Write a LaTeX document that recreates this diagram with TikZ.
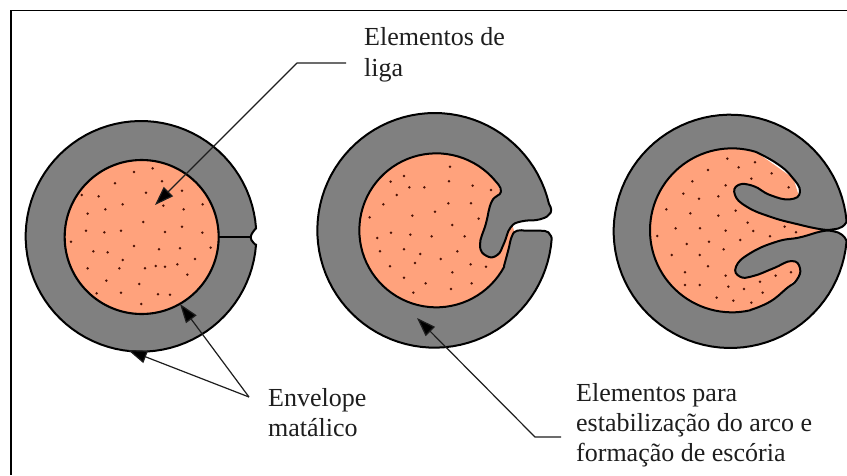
\documentclass[tikz,border=0pt]{standalone}
\usepackage{fontspec}
\setmainfont{Liberation Serif}
\usetikzlibrary{arrows.meta}
\definecolor{core}{HTML}{FFA27C}
\definecolor{shell}{HTML}{808080}
\definecolor{speck}{HTML}{4A1206}
\definecolor{ink}{HTML}{1E1E1E}
\tikzset{
  frameline/.style={line width=1.8pt,black},
  shellshape/.style={fill=shell,draw=black,line width=2pt,line join=round},
  coreline/.style={fill=core,draw=black,line width=2.1pt},
  leader/.style={draw=ink,line width=1.2pt,line join=round},
  pointer/.style={leader,-{Triangle[length=19pt,width=13pt,fill=black]}},
  label/.style={anchor=north west,inner sep=0pt,align=left,text=ink,font=\fontsize{26}{30.3}\selectfont},
  zoomA/.style={xshift=0pt,yshift=-120pt,x=.33333pt,y=-.33333pt},
  zoomB/.style={xshift=300pt,yshift=-110pt,x=.33333pt,y=-.33333pt},
  zoomC/.style={xshift=590pt,yshift=-110pt,x=.33333pt,y=-.33333pt},
}
\newcommand{\specks}[1]{\foreach \px/\py in {#1}{\fill[speck] (\px,\py) circle[radius=1.4pt];}}
\begin{document}
\begin{tikzpicture}[x=1pt,y=-1pt]
\useasboundingbox (0,0) rectangle (847,475);
\fill[white] (0,0) rectangle (847,475);
% frame: only the top and left edges are in view
\coordinate (fTL) at (11,10.5);
\coordinate (fTR) at (847,10.5);
\coordinate (fBL) at (11,475);
\draw[frameline] (fTR) -- (fTL) -- (fBL);

% ---- left section
\begin{scope}[zoomA]
  \draw[shellshape] plot[domain=4:356,samples=90] ({423+346*cos(-\x)},{349+346*sin(-\x)})
     -- plot[smooth,tension=.8] coordinates {(768,375) (752,352) (768,325)} -- cycle;
  \draw[coreline] (425,351) circle[radius=77pt];
  \coordinate (seamA) at (655,352);
  \coordinate (seamB) at (752,352);
  \draw[black,line width=2pt] (seamA) -- (seamB);
  \specks{402/156,458/145,345/190,486/184,438/218,245/225,296/229,546/212,368/253,490/257,608/253,551/268,316/268,263/281,430/306,258/332,313/337,363/332,495/336,546/320,607/338,213/365,402/378,280/394,323/397,477/388,540/385,632/383,368/420,585/417,263/445,358/445,435/445,467/438,495/440,532/433,562/464,319/482,418/492,290/520,363/518,474/523,510/524,424/552}
\end{scope}

% ---- middle section
\begin{scope}[zoomB]
  \fill[core] plot[domain=28:320,samples=70] ({409+231*cos(\x)},{361+231*sin(\x)})
     -- (620,280) -- (642,362) -- (630,420) -- cycle;
  \draw[shellshape] plot[domain=13:356,samples=90] ({404+352*cos(-\x)},{361+352*sin(-\x)})
     -- plot[smooth,tension=.8] coordinates {(755,385) (745,367) (720,362) (680,362) (652,362) (636,378) (625,420) (612,468)}
     -- plot[domain=28:320,samples=70] ({409+231*cos(\x)},{361+231*sin(\x)})
     -- plot[smooth,tension=.8] coordinates {(586,213) (603,245) (575,275) (558,340) (540,405) (560,438) (592,435) (612,400) (632,352) (665,334) (720,328) (752,308) (747,282)}
     -- cycle;
  \specks{450/170,272/215,312/198,447/214,328/232,373/232,518/227,573/240,290/255,250/283,445/280,513/280,405/305,209/322,337/317,536/326,457/345,273/368,331/374,395/379,494/379,232/384,312/418,240/424,472/424,361/432,422/447,345/459,270/469,512/463,558/470,457/487,312/503,377/520,515/520,453/537,340/548}
\end{scope}

% ---- right section
\begin{scope}[zoomC]
  \fill[core] plot[domain=77:287,samples=60] ({426+246*cos(\x)},{361+246*sin(\x)})
     -- (610,205) -- (640,300) -- (700,361) -- (640,420) -- (628,500) -- (540,575) -- cycle;
  \draw[shellshape] plot[domain=5:355,samples=90] ({421+350*cos(-\x)},{364+350*sin(-\x)})
     -- plot[smooth,tension=.8] coordinates {(770,394) (757,375) (730,364) (695,364) (630,382) (560,395) (480,430) (438,470) (450,500) (490,498) (550,475) (605,453) (630,475) (620,510) (590,535) (540,575) (481,600)}
     -- plot[domain=77:287,samples=60] ({426+246*cos(\x)},{361+246*sin(\x)})
     -- plot[smooth,tension=.8] coordinates {(498,126) (560,160) (605,200) (630,245) (600,268) (540,255) (490,228) (445,225) (435,255) (470,290) (540,320) (620,342) (695,358) (730,358) (757,350) (770,334)}
     -- cycle;
  \specks{412/146,495/157,354/180,446/172,545/190,484/206,307/214,407/226,596/232,280/251,327/266,385/259,229/298,437/302,301/310,385/317,473/338,257/355,330/355,407/362,490/363,584/350,618/367,202/378,540/379,357/395,451/390,290/402,401/418,245/435,329/435,354/469,285/487,407/497,557/497,603/487,510/515,285/525,329/525,415/530,462/537,518/548,380/563,430/572,484/578}
\end{scope}

% ---- labels
\node[label] (liga) at (364,27.5) {Elementos de\\liga};
\node[label] (env) at (268,388) {Envelope\\matálico};
\node[label] (escoria) at (576,383) {Elementos para\\estabilização do arco e\\formação de escória};

% ---- connectors
\coordinate (ligaEnd) at (346,63);
\coordinate (ligaBend) at (297,63);
\coordinate (ligaTip) at (155,205);
\draw[pointer] (ligaEnd) -- (ligaBend) -- (ligaTip);

\coordinate (envApex) at (249,397);
\coordinate (envTipIn) at (180,304);
\coordinate (envTipOut) at (128,350);
\draw[pointer] (envApex) -- (envTipIn);
\draw[pointer] (envApex) -- (envTipOut);

\coordinate (escEnd) at (561,437);
\coordinate (escBend) at (535,437);
\coordinate (escTip) at (417,318);
\draw[pointer] (escEnd) -- (escBend) -- (escTip);
\end{tikzpicture}
\end{document}
